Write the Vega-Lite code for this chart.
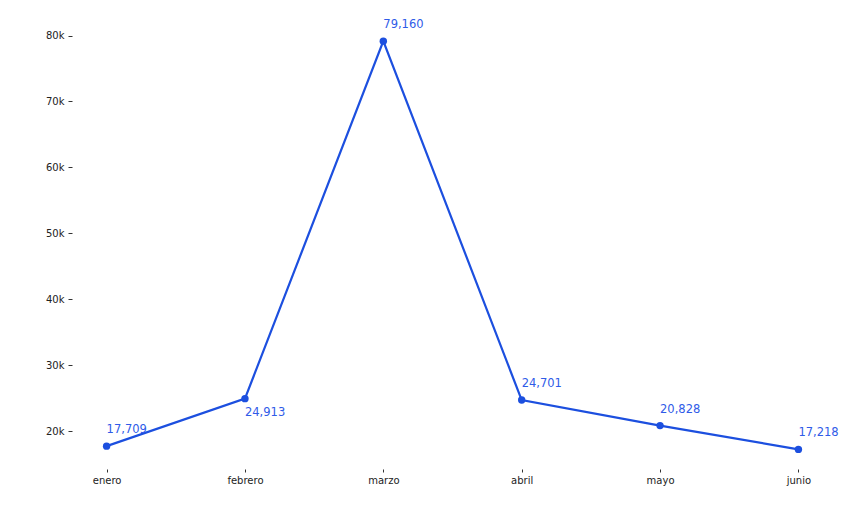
{
  "$schema": "https://vega.github.io/schema/vega-lite/v6.json",
  "width": 761,
  "height": 435,
  "autosize": {"type": "none"},
  "padding": {"left": 72, "top": 29, "right": 32, "bottom": 42},
  "background": "white",
  "config": {"view": {"stroke": null}, "font": "DejaVu Sans"},
  "data": {"values": [
    {"mes": "enero", "valor": 17709},
    {"mes": "febrero", "valor": 24913},
    {"mes": "marzo", "valor": 79160},
    {"mes": "abril", "valor": 24701},
    {"mes": "mayo", "valor": 20828},
    {"mes": "junio", "valor": 17218}
  ]},
  "encoding": {
    "x": {"field": "mes", "type": "ordinal", "sort": null,
      "scale": {"type": "point", "padding": 0.25},
      "axis": {"title": null, "labelAngle": 0, "domain": false, "grid": false, "offset": 5, "tickSize": 3, "tickColor": "#333", "labelColor": "#222", "labelFontSize": 10, "labelPadding": 3}},
    "y": {"field": "valor", "type": "quantitative",
      "scale": {"domain": [15000, 81000], "zero": false, "nice": false},
      "axis": {"title": null, "values": [20000, 30000, 40000, 50000, 60000, 70000, 80000], "format": "~s", "domain": false, "grid": false, "tickSize": 4, "tickColor": "#333", "labelColor": "#222", "labelFontSize": 10, "labelPadding": 4}}
  },
  "layer": [
    {"mark": {"type": "line", "color": "#1c4fdf", "strokeWidth": 2.2}},
    {"mark": {"type": "point", "filled": true, "color": "#1c4fdf", "size": 55, "opacity": 1}},
    {"transform": [{"filter": "datum.mes != 'febrero'"}],
     "mark": {"type": "text", "align": "left", "baseline": "middle", "dx": 0, "dy": -16, "fontSize": 11.5, "color": "#2f5be8"},
     "encoding": {"text": {"field": "valor", "type": "quantitative", "format": ",d"}}},
    {"transform": [{"filter": "datum.mes == 'febrero'"}],
     "mark": {"type": "text", "align": "left", "baseline": "middle", "dx": 0, "dy": 14, "fontSize": 11.5, "color": "#2f5be8"},
     "encoding": {"text": {"field": "valor", "type": "quantitative", "format": ",d"}}}
  ]
}
